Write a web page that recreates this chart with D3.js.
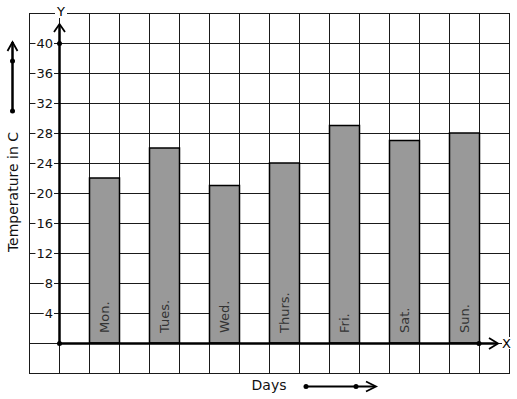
<!DOCTYPE html>
<html><head><meta charset="utf-8">
<script src="https://cdn.jsdelivr.net/npm/d3@7"></script>
<style>body{margin:0;background:#fff}svg{display:block}text{font-family:"DejaVu Sans",sans-serif}</style>
</head><body>
<script>
const days = ["Mon.","Tues.","Wed.","Thurs.","Fri.","Sat.","Sun."];
const temps = [22, 26, 21, 24, 29, 27, 28];
const yTicks = [4, 8, 12, 16, 20, 24, 28, 32, 36, 40];
const xLabel = "Days";
const yLabel = "Temperature in C";

const W = 517, H = 399;
const svg = d3.select("body").append("svg").attr("width", W).attr("height", H);

const x = d3.scaleLinear().domain([0, 15]).range([59, 509]);
const y = d3.scaleLinear().domain([0, 40]).range([343, 43]);

const g = svg.append("g");
d3.range(-1, 16).forEach(i => {
  g.append("line").attr("x1", x(i)+0.5).attr("x2", x(i)+0.5).attr("y1", y(44)).attr("y2", y(-4))
   .attr("stroke", "#1a1a1a").attr("stroke-width", 1);
});
d3.range(-4, 45, 4).forEach(v => {
  g.append("line").attr("y1", y(v)+0.5).attr("y2", y(v)+0.5).attr("x1", x(-1)).attr("x2", x(15)+1)
   .attr("stroke", "#1a1a1a").attr("stroke-width", 1);
});

const bars = svg.append("g");
days.forEach((d, i) => {
  const c = 1 + 2*i;
  bars.append("rect").attr("x", x(c)+0.5).attr("width", x(c+1)-x(c))
    .attr("y", y(temps[i])).attr("height", y(0)-y(temps[i]))
    .attr("fill", "#999").attr("stroke", "#000").attr("stroke-width", 1.5);
  bars.append("text").attr("transform", `translate(${(x(c)+x(c+1))/2+5},333) rotate(-90)`)
    .attr("font-size", 13).attr("fill", "#333").text(d);
});

const tk = svg.append("g");
yTicks.forEach(v => {
  const t = tk.append("text").attr("x", 53).attr("y", y(v)+5).attr("text-anchor", "end")
    .attr("font-size", 13).attr("fill", "#111").text(v);
  const bb = t.node().getBBox();
  tk.insert("rect", "text").attr("x", bb.x-1).attr("y", y(v)-2).attr("width", bb.width+2).attr("height", 4).attr("fill", "#fff");
});

const ax = svg.append("g").attr("stroke", "#000").attr("fill", "none");
ax.append("line").attr("x1", x(0)+0.5).attr("x2", x(0)+0.5).attr("y1", y(0)).attr("y2", 25).attr("stroke-width", 2.5);
ax.append("path").attr("d", `M${x(0)-5},32 L${x(0)+0.5},24 L${x(0)+6},32`).attr("stroke-width", 1.8);
ax.append("line").attr("x1", x(0)).attr("x2", 497).attr("y1", y(0)+0.5).attr("y2", y(0)+0.5).attr("stroke-width", 2.5);
ax.append("path").attr("d", `M489,338 L498,${y(0)+0.5} L489,349`).attr("stroke-width", 1.8);
svg.append("circle").attr("cx", x(0)+0.5).attr("cy", y(40)+0.5).attr("r", 2.5);
svg.append("circle").attr("cx", x(0)+0.5).attr("cy", y(0)+0.5).attr("r", 2.5);
svg.append("circle").attr("cx", x(14)).attr("cy", y(0)+0.5).attr("r", 2.5);

svg.append("rect").attr("x", 55).attr("y", 8).attr("width", 12).attr("height", 10).attr("fill", "#fff");
svg.append("text").attr("x", 61).attr("y", 16).attr("text-anchor", "middle").attr("font-size", 13).text("Y");
svg.append("rect").attr("x", 502).attr("y", 337).attr("width", 11).attr("height", 12).attr("fill", "#fff");
svg.append("text").attr("x", 502).attr("y", 348).attr("font-size", 13).text("X");

const la = svg.append("g").attr("stroke", "#000").attr("fill", "none");
la.append("line").attr("x1", 12.5).attr("x2", 12.5).attr("y1", 111).attr("y2", 42).attr("stroke-width", 2.5);
la.append("path").attr("d", "M7.5,51 L12.5,42 L17.5,51").attr("stroke-width", 1.8);
svg.append("circle").attr("cx", 12.5).attr("cy", 61).attr("r", 2.5);
svg.append("circle").attr("cx", 12.5).attr("cy", 111).attr("r", 2.5);
svg.append("text").attr("transform", "translate(18,192) rotate(-90)").attr("text-anchor", "middle")
  .attr("font-size", 14).attr("fill", "#111").text(yLabel);

svg.append("text").attr("x", 269).attr("y", 390).attr("text-anchor", "middle").attr("font-size", 14).attr("fill", "#111").text(xLabel);
const ba = svg.append("g").attr("stroke", "#000").attr("fill", "none");
ba.append("line").attr("x1", 306).attr("x2", 375).attr("y1", 386.5).attr("y2", 386.5).attr("stroke-width", 2);
ba.append("path").attr("d", "M366,381.5 L376,386.5 L366,391.5").attr("stroke-width", 1.8);
svg.append("circle").attr("cx", 306).attr("cy", 386.5).attr("r", 2.5);
svg.append("circle").attr("cx", 356).attr("cy", 386.5).attr("r", 2.5);
</script>
</body></html>
